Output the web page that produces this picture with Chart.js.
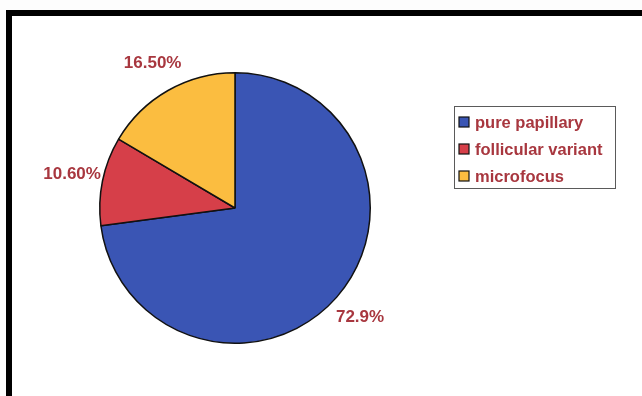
<!DOCTYPE html>
<html>
<head>
<meta charset="utf-8">
<script src="https://cdn.jsdelivr.net/npm/chart.js@4/dist/chart.umd.min.js"></script>
<style>
  html, body { margin: 0; padding: 0; background: #fff; }
  #wrap { position: relative; width: 642px; height: 396px; overflow: hidden; background: #fdfdfd; }
  #frame { position: absolute; left: 6px; top: 10px; right: -10px; bottom: -10px;
           border-top: 6px solid #000; border-left: 6px solid #000; background: #fff; }
  canvas { position: absolute; left: 0; top: 0; }
</style>
</head>
<body>
<div id="wrap">
  <div id="frame"></div>
  <canvas id="pie" width="642" height="396"></canvas>
</div>
<script>
// data
const categories = ["pure papillary", "follicular variant", "microfocus"];
const shares = [72.9, 10.6, 16.5];
const shareLabels = ["72.9%", "10.60%", "16.50%"];
const sliceColors = ["#3a55b4", "#d63f49", "#fbbd40"];

const textColor = "#a8373f";
const labelFont = "bold 17px 'Liberation Sans', Arial, sans-serif";

// percentage labels outside each slice
const sliceLabels = {
  id: "sliceLabels",
  afterDatasetsDraw(chart) {
    const ctx = chart.ctx;
    const arcs = chart.getDatasetMeta(0).data;
    ctx.save();
    ctx.font = labelFont;
    ctx.fillStyle = textColor;
    ctx.textAlign = "center";
    ctx.textBaseline = "middle";
    arcs.forEach((arc, i) => {
      const p = arc.getProps(["x", "y", "startAngle", "endAngle", "outerRadius"], true);
      const mid = (p.startAngle + p.endAngle) / 2;
      const r = p.outerRadius + 31;
      ctx.fillText(shareLabels[i], p.x + Math.cos(mid) * r, p.y + Math.sin(mid) * r);
    });
    ctx.restore();
  },
};

// boxed legend on the right
const boxLegend = {
  id: "boxLegend",
  afterDraw(chart) {
    const ctx = chart.ctx;
    const left = 454, top = 106, w = 161, h = 82;
    ctx.save();
    ctx.strokeStyle = "#5a5a5a";
    ctx.lineWidth = 1;
    ctx.strokeRect(left + 0.5, top + 0.5, w, h);
    ctx.font = "bold 16.5px 'Liberation Sans', Arial, sans-serif";
    ctx.textBaseline = "middle";
    categories.forEach((name, i) => {
      const y = top + 16 + i * 27;
      ctx.fillStyle = sliceColors[i];
      ctx.fillRect(left + 5, y - 5, 10, 10);
      ctx.strokeStyle = "#111";
      ctx.lineWidth = 1.2;
      ctx.strokeRect(left + 5, y - 5, 10, 10);
      ctx.fillStyle = textColor;
      ctx.fillText(name, left + 21, y + 1);
    });
    ctx.restore();
  },
};

new Chart(document.getElementById("pie"), {
  type: "pie",
  data: {
    labels: categories,
    datasets: [{
      data: shares,
      backgroundColor: sliceColors,
      borderColor: "#111",
      borderWidth: 1.5,
    }],
  },
  options: {
    responsive: false,
    animation: false,
    layout: { padding: { left: 99, right: 271, top: 72, bottom: 52 } },
    plugins: {
      legend: { display: false },
      tooltip: { enabled: false },
    },
  },
  plugins: [sliceLabels, boxLegend],
});
</script>
</body>
</html>
